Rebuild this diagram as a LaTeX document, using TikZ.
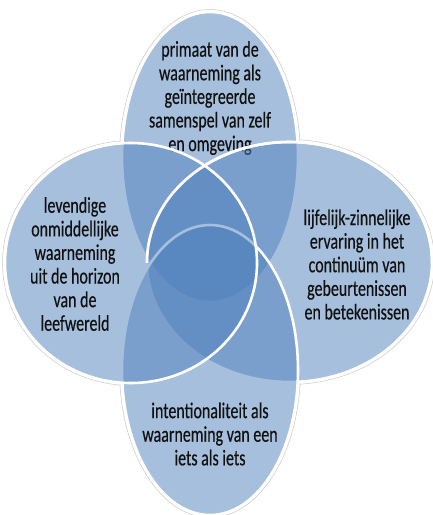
\documentclass[tikz,border=0pt]{standalone}
\usepackage{fontspec}
\setmainfont{Carlito}[FakeStretch=0.71, FakeBold=0.4]
\usetikzlibrary{shapes.geometric}
\definecolor{vennblue}{HTML}{4F81BD}
\definecolor{inkgray}{HTML}{111111}
\tikzset{
  rim/.style={ellipse, inner sep=0pt, draw=black!22, line width=0.5pt},
  under/.style={ellipse, inner sep=0pt, fill=white},
  petal/.style={ellipse, inner sep=0pt, fill=vennblue, fill opacity=0.5, draw=white, line width=2.6pt},
  caption/.style={align=center, text=inkgray, font=\fontsize{22.5}{23.6}\selectfont},
  topsize/.style={minimum width=#1+176pt, minimum height=#1+290pt},
  leftsize/.style={minimum width=#1+252pt, minimum height=#1+240pt},
  rightsize/.style={minimum width=#1+285pt, minimum height=#1+240pt},
}

\begin{document}
\begin{tikzpicture}[x=1pt, y=-1pt]
\useasboundingbox (0,0) rectangle (433,515);
% shadows
\node[rim, topsize=5] (toprim) at (210,157) {};
\node[rim, topsize=5] (botrim) at (210,370) {};
\node[rim, leftsize=5] (leftrim) at (131,263) {};
\node[rim, rightsize=5] (rightrim) at (289.5,262) {};
\node[under, topsize=0] at (210,157) {};
\node[under, topsize=0] at (210,370) {};
\node[under, leftsize=0] at (131,263) {};
\node[under, rightsize=0] at (289.5,262) {};
% petals
\node[petal, topsize=0] (top) at (210,157) {};
\node[caption] (toptext) at (210,98) {primaat van de\\waarneming als\\geïntegreerde\\samenspel van zelf\\en omgeving};
\node[petal, rightsize=0] (right) at (289.5,262) {};
\node[caption] (righttext) at (357,264.5) {lijfelijk-zinnelijke\\ervaring in het\\continuüm van\\gebeurtenissen\\en betekenissen};
\node[petal, topsize=0] (bottom) at (210,370) {};
\node[caption] (bottomtext) at (210,434) {intentionaliteit als\\waarneming van een\\iets als iets};
\node[petal, leftsize=0] (left) at (131,263) {};
\node[caption] (lefttext) at (75,264) {levendige\\onmiddellijke\\waarneming\\uit de horizon\\van de\\leefwereld};
% upper rim of the right petal stays bright
\begin{scope}
  \clip (0,0) rectangle (433,262);
  \draw[white, line width=2.6pt] (right.center) ellipse [x radius=142.5, y radius=120];
\end{scope}
\end{tikzpicture}
\end{document}
